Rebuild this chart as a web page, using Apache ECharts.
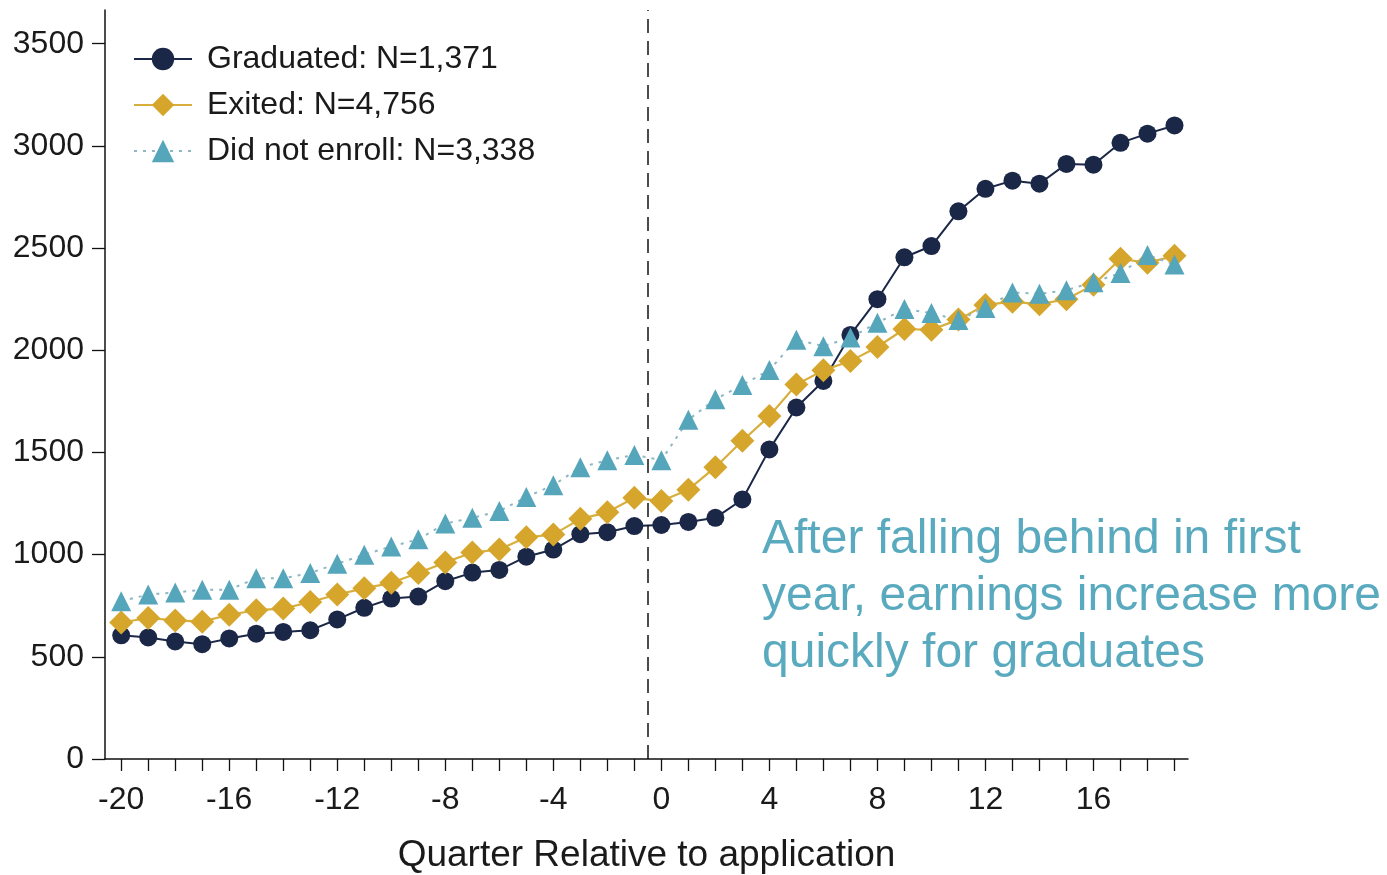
<!DOCTYPE html>
<html>
<head>
<meta charset="utf-8">
<script src="https://cdn.jsdelivr.net/npm/echarts@6/dist/echarts.min.js"></script>
<style>
html,body{margin:0;padding:0;background:#fff;}
#chart{width:1387px;height:875px;}
</style>
</head>
<body>
<div id="chart"></div>
<script>
var quarters = [-20,-19,-18,-17,-16,-15,-14,-13,-12,-11,-10,-9,-8,-7,-6,-5,-4,-3,-2,-1,0,1,2,3,4,5,6,7,8,9,10,11,12,13,14,15,16,17,18,19];
var graduated = [605,595,575,562,590,613,622,630,683,740,785,795,870,912,925,990,1025,1100,1110,1140,1145,1160,1180,1270,1515,1720,1850,2075,2250,2455,2510,2680,2790,2830,2815,2912,2908,3015,3060,3100];
var exited = [668,690,678,672,706,728,736,768,805,835,862,910,962,1010,1025,1085,1098,1175,1207,1278,1262,1318,1428,1557,1678,1832,1902,1947,2016,2104,2100,2150,2222,2238,2225,2250,2320,2448,2428,2462];
var notEnrolled = [772,805,815,828,828,884,884,910,956,1000,1040,1075,1152,1180,1213,1282,1340,1427,1462,1488,1462,1660,1760,1830,1903,2052,2020,2062,2135,2202,2182,2148,2207,2283,2276,2294,2333,2378,2466,2420];
var seriesNames = ['Graduated: N=1,371','Exited: N=4,756','Did not enroll: N=3,338'];
var xTickValues = quarters.slice();
var xLabelValues = [-20,-16,-12,-8,-4,0,4,8,12,16];
var yTickValues = [0,500,1000,1500,2000,2500,3000,3500];
var applicationLine = -0.5;
var xTitle = 'Quarter Relative to application';
var annotation = 'After falling behind in first\nyear, earnings increase more\nquickly for graduates';

function pairs(vals){ return quarters.map(function(q,i){ return [q, vals[i]]; }); }

var FONT = '"Liberation Sans", Arial, Helvetica, sans-serif';
var chart = echarts.init(document.getElementById('chart'), null, {renderer:'canvas'});
chart.setOption({
  backgroundColor:'#ffffff',
  animation:false,
  grid:{left:105, right:199, top:10, bottom:116, containLabel:false, outerBoundsMode:'none'},
  legend:{
    left:128, top:38, orient:'vertical', itemWidth:58, itemHeight:28, itemGap:14,
    textStyle:{fontFamily:FONT, fontSize:32, color:'#1a1a1a', padding:[0,0,0,10]},
    data:seriesNames
  },
  xAxis:{
    type:'value', min:-20.6, max:19.5,
    axisLine:{show:true, onZero:false, lineStyle:{color:'#111', width:1.5}},
    axisTick:{show:true, length:12, lineStyle:{color:'#111', width:1.3}, customValues:xTickValues},
    axisLabel:{customValues:xLabelValues, fontFamily:FONT, fontSize:32, color:'#1a1a1a', margin:25,
      formatter:function(v){ return String(v); }},
    splitLine:{show:false},
    name:xTitle, nameLocation:'middle', nameGap:78,
    nameTextStyle:{fontFamily:FONT, fontSize:37, color:'#1a1a1a'}
  },
  yAxis:{
    type:'value', min:0, max:3665,
    axisLine:{show:true, onZero:false, lineStyle:{color:'#111', width:1.5}},
    axisTick:{show:true, length:13, lineStyle:{color:'#111', width:1.3}, customValues:yTickValues},
    axisLabel:{customValues:yTickValues, fontFamily:FONT, fontSize:32, color:'#1a1a1a', margin:21,
      formatter:function(v){ return String(v); }},
    splitLine:{show:false}
  },
  graphic:[{
    type:'text', left:762, top:511,
    style:{text:annotation, font:'48px ' + FONT, fill:'#5aaabf', lineHeight:57}
  }],
  series:[
    {
      name:seriesNames[0], type:'line', data:pairs(graduated),
      symbol:'circle', symbolSize:18,
      lineStyle:{color:'#1b2747', width:2},
      itemStyle:{color:'#1b2747'},
      markLine:{
        silent:true, symbol:'none', label:{show:false},
        lineStyle:{color:'#111', width:1.5, type:[14,8]},
        data:[{xAxis:applicationLine}]
      }
    },
    {
      name:seriesNames[1], type:'line', data:pairs(exited),
      symbol:'diamond', symbolSize:24,
      lineStyle:{color:'#d8ae3c', width:2.2},
      itemStyle:{color:'#d6a62c'}
    },
    {
      name:seriesNames[2], type:'line', data:pairs(notEnrolled),
      symbol:'triangle', symbolSize:20,
      lineStyle:{color:'#8fb6c4', width:2, type:[3,6]},
      itemStyle:{color:'#55a5bb'}
    }
  ]
});
</script>
</body>
</html>
